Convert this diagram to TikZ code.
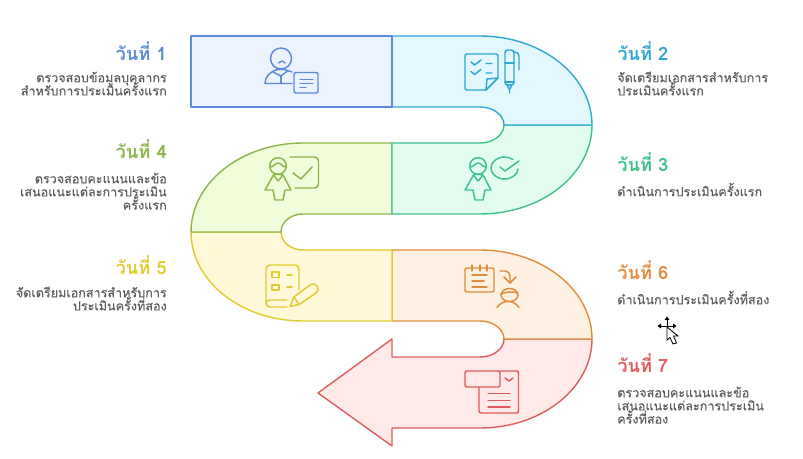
\documentclass[tikz,border=0pt]{standalone}
\usepackage{fontspec}
\newfontfamily\thaifont[Script=Thai]{Loma}
\newfontfamily\thaibody[Script=Thai,RawFeature={embolden=0.3}]{Loma}
\definecolor{cA}{HTML}{5B8BD9}\definecolor{fA}{HTML}{EDF3FE}
\definecolor{cB}{HTML}{2FA8D5}\definecolor{fB}{HTML}{E3F7FF}
\definecolor{cC}{HTML}{3FC28A}\definecolor{fC}{HTML}{E2FDF0}
\definecolor{cD}{HTML}{8DB64A}\definecolor{fD}{HTML}{F1FCDB}
\definecolor{cE}{HTML}{E2CB2E}\definecolor{fE}{HTML}{FFF9D9}
\definecolor{cF}{HTML}{E08D3E}\definecolor{fF}{HTML}{FFF1E2}
\definecolor{cG}{HTML}{E05D5D}\definecolor{fG}{HTML}{FFE9E9}
\definecolor{bodygray}{HTML}{5E5E5E}
\newcommand{\firststrut}{\rule{0pt}{11pt}}
\lineskiplimit=-100pt
\normallineskiplimit=-100pt
\tikzset{
  band/.style={line width=1.05pt,line join=round},
  ico/.style={line width=1.1pt,line cap=round,line join=round},
  daytitle/.style={inner sep=0pt,font=\thaifont\bfseries\fontsize{13.7}{16}\selectfont},
  bodytext/.style={inner sep=0pt,text=bodygray,font=\thaibody\fontsize{9.45}{9.9}\selectfont},
  bodyL/.style={bodytext,align=left,anchor=north west},
  bodyR/.style={bodytext,align=right,anchor=north east},
}
% person with a skirt, drawn relative to the head of icon 3
\newcommand{\skirtperson}{%
  \draw (478,166) circle (8.3);
  \draw (470,167) .. controls (474,167) and (475,163) .. (478,163) .. controls (481,163) and (482,167) .. (486,167);
  \draw (473.5,175) -- (465,190) -- (473,190) -- (475,200) -- (483,200) -- (485,190) -- (491,190) -- (483,175) .. controls (480,174) and (476,174) .. (473.5,175);
  \draw (473.5,175) -- (478,181) -- (483,175);
}
\begin{document}
\begin{tikzpicture}[x=0.75pt,y=-0.75pt]
\useasboundingbox (0,0) rectangle (803,459);
\fill[white] (0,0) rectangle (803,459);

% ribbon, last segment first so that earlier borders lie on top
\draw[band,draw=cG,fill=fG] (592,339) .. controls (592,388) and (542,428) .. (480,428) -- (392,428) -- (392,446) -- (318,393) -- (392,339) -- (392,357) -- (480,357) .. controls (493,357) and (504,349) .. (504,339) -- cycle;
\draw[band,draw=cF,fill=fF] (392,250) -- (480,250) .. controls (542,250) and (592,290) .. (592,339) -- (504,339) .. controls (504,329) and (493,321) .. (480,321) -- (392,321) -- cycle;
\draw[band,draw=cE,fill=fE] (191,232) .. controls (191,281) and (241,321) .. (303,321) -- (392,321) -- (392,250) -- (303,250) .. controls (291,250) and (281,242) .. (281,232) -- cycle;
\draw[band,draw=cD,fill=fD] (392,143) -- (303,143) .. controls (241,143) and (191,183) .. (191,232) -- (281,232) .. controls (281,222) and (291,214) .. (303,214) -- (392,214) -- cycle;
\draw[band,draw=cC,fill=fC] (592,125) .. controls (592,174) and (542,214) .. (480,214) -- (392,214) -- (392,143) -- (480,143) .. controls (493,143) and (504,135) .. (504,125) -- cycle;
\draw[band,draw=cB,fill=fB] (392,36) -- (480,36) .. controls (542,36) and (592,76) .. (592,125) -- (504,125) .. controls (504,115) and (493,107) .. (480,107) -- (392,107) -- cycle;
\draw[band,draw=cA,fill=fA] (191,36) rectangle (392,107);

% icon 1
\begin{scope}[ico,draw=cA]
  \draw (281,58.5) circle (10.5);
  \draw (278.5,63) .. controls (280,60.5) and (283,60.5) .. (285,63);
  \draw (292,83.5) -- (265,83.5) .. controls (265,77) and (270,71) .. (278,69.5);
  \draw (278,69.5) -- (284,69.5) -- (292,72);
  \draw (273,72) -- (281,76) -- (288,70.5);
  \draw (281,76) -- (281,83.5);
  \draw[rounded corners=1.5pt] (294,72.5) rectangle (318,93);
  \draw (300,79.5) -- (313,79.5) (300,83.5) -- (313,83.5) (300,87.5) -- (306,87.5);
\end{scope}

% icon 2
\begin{scope}[ico,draw=cB]
  \draw[rounded corners=1.5pt] (498,78) -- (498,54) -- (465,54) -- (465,90) -- (486,90);
  \draw (486,90) -- (498,78) -- (487,79) -- (486,90);
  \draw (471,62) -- (474.5,65) -- (481,60) (486,63.5) -- (492,63.5);
  \draw (471,71.5) -- (474.5,74.5) -- (481,69.5) (486,73) -- (492,73);
  \draw[rounded corners=2pt] (505,85) -- (505,50) -- (514,50) -- (514,85) -- cycle;
  \draw (505,63) -- (514,63) (505,82) -- (514,82);
  \draw (507,85) -- (509.5,89.5) -- (512,85) -- cycle (509.5,89.5) -- (509.5,93);
  \draw (514,52) .. controls (517,52) and (519,53) .. (519,56) -- (519,70);
\end{scope}

% icon 3
\begin{scope}[ico,draw=cC]
  \skirtperson
  \draw (513,159.5) .. controls (510.5,158) and (507.5,157) .. (504.5,157) .. controls (497,157) and (491,162) .. (491,168) .. controls (491,174) and (497,179) .. (504.5,179) .. controls (512,179) and (518,174) .. (518,169);
  \draw (500,167) -- (505,171) -- (519,161);
\end{scope}

% icon 4
\begin{scope}[ico,draw=cD,shift={(-200,0)}]
  \skirtperson
\end{scope}
\begin{scope}[ico,draw=cD]
  \draw[rounded corners=3pt] (290,157) -- (318.5,157) -- (318.5,188) -- (295,188);
  \draw (293,173) -- (301,179) -- (312,167);
\end{scope}

% icon 5
\begin{scope}[ico,draw=cE]
  \draw[rounded corners=3pt] (287,307) -- (266,307) -- (266,265) -- (299,265) -- (299,290);
  \draw (287,300) -- (270,300) .. controls (267,300) and (266,302) .. (266,304);
  \draw (272,272) rectangle (279,277.5) (272,285) rectangle (279,290);
  \draw (287,275) -- (292,275) (287,287) -- (292,287);
  \draw (290,306.5) -- (294,297) -- (310,285) .. controls (313,283) and (316,284) .. (317.5,286.5) .. controls (319,289) and (318,291) .. (316,293) -- (299,304.5) -- cycle;
  \draw (294,297) -- (299,304.5);
\end{scope}

% icon 6
\begin{scope}[ico,draw=cF]
  \draw[rounded corners=1.5pt] (465,268) rectangle (494,292);
  \draw (472,265) -- (472,271) (480,265) -- (480,271) (487,265) -- (487,271);
  \draw (472,275) -- (487,275) (472,281) -- (484,281) (472,287) -- (487,287);
  \draw (500,271) -- (505,271) .. controls (508,271) and (510,273) .. (510,276) -- (510,283);
  \draw (504,277) -- (510,283) -- (516,277);
  \draw (509.5,295) ellipse (8.5 and 6.5);
  \draw (501,294.5) .. controls (504,292) and (513,291) .. (517.5,293);
  \draw (497,307.5) .. controls (500,303) and (504,301.5) .. (508,301.5) .. controls (512,301.5) and (516,303) .. (519,307.5);
\end{scope}

% icon 7
\begin{scope}[ico,draw=cG]
  \draw[rounded corners=1.5pt] (500,371) -- (518.5,371) -- (518.5,413) -- (479,413) -- (479,387);
  \draw[rounded corners=1.5pt] (465,371) rectangle (500,387);
  \draw (505,378) -- (509,381) -- (513,378);
  \draw (488,393.5) -- (510,393.5) (488,400.5) -- (510,400.5) (488,407) -- (510,407);
\end{scope}

% titles
\node[daytitle,text=cA,anchor=base east] (t1) at (167,60.5) {วันที่ 1};
\node[daytitle,text=cB,anchor=base west] (t2) at (617,60.5) {วันที่ 2};
\node[daytitle,text=cC,anchor=base west] (t3) at (617,171.5) {วันที่ 3};
\node[daytitle,text=cD,anchor=base east] (t4) at (167,158.5) {วันที่ 4};
\node[daytitle,text=cE,anchor=base east] (t5) at (167,274.5) {วันที่ 5};
\node[daytitle,text=cF,anchor=base west] (t6) at (617,279.5) {วันที่ 6};
\node[daytitle,text=cG,anchor=base west] (t7) at (617,372.5) {วันที่ 7};

% body text
\node[bodyR] (b1) at (167,67.3) {\firststrut ตรวจสอบข้อมูลบุคลากร\\สำหรับการประเมินครั้งแรก};
\node[bodyL] (b2) at (617,67.3) {\firststrut จัดเตรียมเอกสารสำหรับการ\\ประเมินครั้งแรก};
\node[bodyL] (b3) at (617,181.3) {\firststrut ดำเนินการประเมินครั้งแรก};
\node[bodyR] (b4) at (167,168.3) {\firststrut ตรวจสอบคะแนนและข้อ\\เสนอแนะแต่ละการประเมิน\\ครั้งแรก};
\node[bodyR] (b5) at (167,282.3) {\firststrut จัดเตรียมเอกสารสำหรับการ\\ประเมินครั้งที่สอง};
\node[bodyL] (b6) at (617,289.3) {\firststrut ดำเนินการประเมินครั้งที่สอง};
\node[bodyL] (b7) at (617,382.3) {\firststrut ตรวจสอบคะแนนและข้อ\\เสนอแนะแต่ละการประเมิน\\ครั้งที่สอง};

% mouse cursor
\draw[black,line width=0.7pt] (659,326) -- (675,326) (667,318) -- (667,334);
\fill[black] (667,316.5) -- (669.5,320) -- (664.5,320) -- cycle
  (657.5,326) -- (661,323.5) -- (661,328.5) -- cycle
  (676.5,326) -- (673,323.5) -- (673,328.5) -- cycle;
\draw[black,fill=white,line width=0.6pt,line join=miter] (667,327) -- (667,340) -- (670,337.5) -- (673,344) -- (676.5,343) -- (673.5,336) -- (678,336) -- cycle;
\end{tikzpicture}
\end{document}
